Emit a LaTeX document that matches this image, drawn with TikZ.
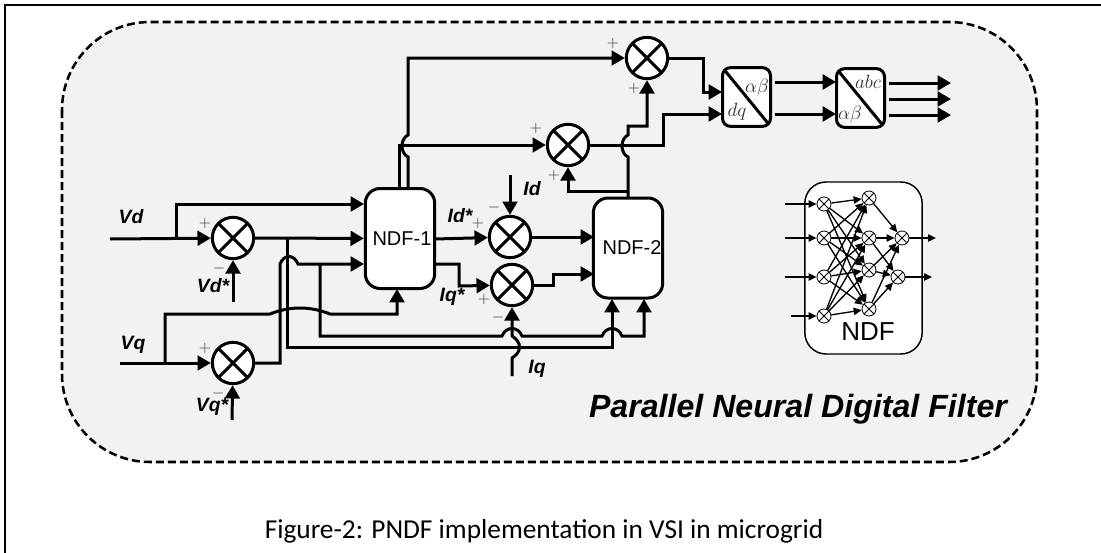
\documentclass[tikz,border=0pt]{standalone}
\usepackage{fontspec}
\setmainfont{Liberation Sans}
\newfontfamily\capfont{Carlito}
\usetikzlibrary{arrows.meta}

\definecolor{panelgray}{HTML}{F2F2F2}
\definecolor{signgray}{HTML}{303030}

\tikzset{
  crossed/.style={path picture={
    \draw[line width=#1] (path picture bounding box.north west) -- (path picture bounding box.south east);
    \draw[line width=#1] (path picture bounding box.north east) -- (path picture bounding box.south west);}},
  sumnode/.style={circle,draw,fill=white,line width=2.25pt,minimum size=31pt,inner sep=0pt,crossed=2.25pt},
  cellnode/.style={circle,draw,fill=white,line width=0.6pt,minimum size=10.5pt,inner sep=0pt,crossed=0.6pt},
  ndfbox/.style={rectangle,draw,fill=white,line width=2.25pt,rounded corners=11pt,minimum width=52pt,minimum height=75pt,inner sep=0pt},
  ndftext/.style={font=\fontsize{15pt}{17pt}\selectfont,inner sep=0pt},
  convbox/.style={rectangle,draw,fill=white,line width=2.25pt,rounded corners=6pt,minimum width=36pt,minimum height=44pt,inner sep=0pt,
    path picture={\draw[line width=2.25pt] (path picture bounding box.north west) -- (path picture bounding box.south east);}},
  namelabel/.style={font=\fontsize{14.5pt}{16pt}\bfseries\itshape\selectfont,inner sep=0pt},
  signlabel/.style={text=signgray,font=\fontsize{13pt}{15pt}\selectfont,inner sep=0pt},
  convlabel/.style={text=signgray,font=\fontsize{15.5pt}{17pt}\selectfont,inner sep=0pt},
  wire/.style={line width=2.25pt,line join=miter},
  arr/.style={wire,-{Triangle[length=10pt,width=11pt]}},
  cellarr/.style={line width=1pt,-{Triangle[length=6pt,width=5.5pt]}}
}

\begin{document}
\begin{tikzpicture}[x=0.75pt,y=-0.75pt]

\useasboundingbox (0,0) rectangle (1101,553);

% frame and panel
\coordinate (frametl) at (5,5);
\coordinate (frametr) at (1101,5);
\coordinate (framebl) at (5,553);
\draw[line width=1.9pt] (frametr) -- (frametl) -- (framebl);
\draw[fill=panelgray,line width=1.9pt,dash pattern=on 6pt off 3pt,rounded corners=66pt] (62,22) rectangle (1037,462);

% blocks
\node[ndfbox] (ndfa) at (400,238.5) {};
\node[ndfbox] (ndfb) at (628,248) {};
\node[ndftext] (ndfaname) at (402,239) {NDF-1};
\node[ndftext] (ndfbname) at (632,248) {NDF-2};
\node[sumnode] (vdsum) at (233,238) {};
\node[sumnode] (vqsum) at (233,363) {};
\node[sumnode] (idsum) at (510,237) {};
\node[sumnode] (iqsum) at (512,285) {};
\node[sumnode] (midsum) at (568,145) {};
\node[sumnode] (topsum) at (647,58) {};
\node[convbox] (dqbox) at (746.5,97) {};
\node[convbox] (abcbox) at (860.5,98) {};

% names
\node[namelabel] (vdname) at (131,217) {Vd};
\node[namelabel] (vqname) at (133,345) {Vq};
\node[namelabel] (vdsname) at (213,286) {Vd*};
\node[namelabel] (vqsname) at (212,407) {Vq*};
\node[namelabel] (idname) at (532,189) {Id};
\node[namelabel] (idsname) at (460,216) {Id*};
\node[namelabel] (iqname) at (537,369) {Iq};
\node[namelabel] (iqsname) at (452,297) {Iq*};

% signs
\node[signlabel] (vdplus) at (205,223) {$+$};
\node[signlabel] (vdminus) at (219,268) {$-$};
\node[signlabel] (vqplus) at (205,348) {$+$};
\node[signlabel] (vqminus) at (218,393) {$-$};
\node[signlabel] (idplus) at (478,223) {$+$};
\node[signlabel] (idminus) at (494,207) {$-$};
\node[signlabel] (iqplus) at (484,299) {$+$};
\node[signlabel] (iqminus) at (498,317) {$-$};
\node[signlabel] (midplusa) at (536,128) {$+$};
\node[signlabel] (midplusb) at (554,175) {$+$};
\node[signlabel] (topplusa) at (613,43) {$+$};
\node[signlabel] (topplusb) at (634,88) {$+$};

\node[convlabel] (dqab) at (757,88) {$\alpha\beta$};
\node[convlabel] (dqdq) at (737,112) {$dq$};
\node[convlabel] (abcabc) at (868,82) {$abc$};
\node[convlabel] (abcab) at (850,115) {$\alpha\beta$};

% free ends and taps
\coordinate (vdin) at (110,239);
\coordinate (vqin) at (120,363);
\coordinate (vdsin) at (233,302);
\coordinate (vqsin) at (232,420);
\coordinate (idin) at (510,175);
\coordinate (iqin) at (512,376);
\coordinate (vdtap) at (176,239);
\coordinate (vqtap) at (165,363);
\coordinate (errtap) at (287,239);
\coordinate (lowtap) at (320,264);
\coordinate (ndfatop) at (364,204);
\coordinate (ndfalow) at (364,264);
\coordinate (ndfavq) at (397,289);
\coordinate (ndfaouta) at (435,239);
\coordinate (ndfaoutb) at (435,264);
\coordinate (ndfaupa) at (399,188);
\coordinate (ndfaupb) at (408,188);
\coordinate (ndfbina) at (594,237);
\coordinate (ndfbinb) at (594,274);
\coordinate (ndfbinc) at (612,299);
\coordinate (ndfbind) at (644,299);
\coordinate (ndfbup) at (628,197);
\coordinate (ndfbtap) at (628,191);
\coordinate (dqina) at (722,92);
\coordinate (dqinb) at (722,114);
\coordinate (dqouta) at (775,82);
\coordinate (dqoutb) at (775,114);
\coordinate (abcina) at (836,82);
\coordinate (abcinb) at (836,114);
\coordinate (abcouta) at (889,83);
\coordinate (abcoutb) at (889,99);
\coordinate (abcoutc) at (889,115);
\coordinate (loada) at (951,83);
\coordinate (loadb) at (951,99);
\coordinate (loadc) at (951,115);

% left inputs
\draw[arr] (vdin) -- (vdsum);
\draw[arr] (vqin) -- (vqsum);
\draw[arr] (vdsin) -- (vdsum);
\draw[arr] (vqsin) -- (vqsum);
\draw[arr] (vdtap) |- (ndfatop);
\draw[arr] (vdsum) -- (ndfa);
\draw[arr] (vqtap) -- (165,314) -- (270,314) .. controls (290,306) and (310,306) .. (330,314) -| (ndfavq);
\draw[arr] (vqsum) -| (280,264) .. controls (284,254) and (294,254) .. (298,264) -- (ndfalow);
\draw[arr] (errtap) -- (287,347) -- (612,347) -- (ndfbinc);
\draw[arr] (lowtap) |- (502,336) .. controls (506,326) and (518,326) .. (522,336) -- (602,336) .. controls (606,326) and (618,326) .. (622,336) -| (ndfbind);

% NDF-1 outputs
\draw[arr] (ndfaouta) -- (idsum);
\draw[arr] (ndfaoutb) -| (459,286) -- (iqsum);
\draw[arr] (idin) -- (idsum);
\draw[arr] (iqin) -- (512,358) .. controls (522,352) and (522,342) .. (512,336) -- (iqsum);
\draw[arr] (idsum) -- (ndfbina);
\draw[arr] (iqsum) -- (553,285) -- (553,274) -- (ndfbinb);
\draw[arr] (ndfaupa) -- (399,145) -- (midsum);
\draw[arr] (ndfaupb) -- (408,157) .. controls (400,153) and (400,139) .. (408,135) |- (topsum);

% NDF-2 outputs
\draw[arr] (ndfbup) -- (628,157) .. controls (620,153) and (620,139) .. (628,135) -- (628,126) -| (topsum);
\draw[arr] (ndfbtap) -| (midsum);
\draw[arr] (topsum) -| (703,92) -- (dqina);
\draw[arr] (midsum) -| (663,114) -- (dqinb);
\draw[arr] (dqouta) -- (abcina);
\draw[arr] (dqoutb) -- (abcinb);
\draw[arr] (abcouta) -- (loada);
\draw[arr] (abcoutb) -- (loadb);
\draw[arr] (abcoutc) -- (loadc);

% NDF cell
\node[rectangle,draw,fill=white,line width=1.1pt,rounded corners=16pt,minimum width=88pt,minimum height=129pt,inner sep=0pt] (ndfcell) at (863.5,268) {};
\node[font=\fontsize{19.5pt}{22pt}\selectfont,inner sep=0pt] (ndfname) at (868,332) {NDF};

\node[cellnode] (ina) at (824,204) {};
\node[cellnode] (inb) at (824,238) {};
\node[cellnode] (inc) at (824,277) {};
\node[cellnode] (ind) at (824,316) {};
\node[cellnode] (hida) at (869,198) {};
\node[cellnode] (hidb) at (869,238) {};
\node[cellnode] (hidc) at (869,270) {};
\node[cellnode] (hidd) at (869,309) {};
\node[cellnode] (outa) at (902,238) {};
\node[cellnode] (outb) at (898,277) {};

\coordinate (xa) at (785,204);
\coordinate (xb) at (785,238);
\coordinate (xc) at (785,277);
\coordinate (xd) at (791,316);
\coordinate (ya) at (936,238);
\coordinate (yb) at (932,277);

\draw[cellarr] (xa) -- (ina);
\draw[cellarr] (xb) -- (inb);
\draw[cellarr] (xc) -- (inc);
\draw[cellarr] (xd) -- (ind);

\draw[cellarr] (ina) -- (hida);
\draw[cellarr] (ina) -- (hidb);
\draw[cellarr] (ina) -- (hidc);
\draw[cellarr] (ina) -- (hidd);
\draw[cellarr] (inb) -- (hida);
\draw[cellarr] (inb) -- (hidb);
\draw[cellarr] (inb) -- (hidc);
\draw[cellarr] (inb) -- (hidd);
\draw[cellarr] (inc) -- (hida);
\draw[cellarr] (inc) -- (hidb);
\draw[cellarr] (inc) -- (hidc);
\draw[cellarr] (inc) -- (hidd);
\draw[cellarr] (ind) -- (hida);
\draw[cellarr] (ind) -- (hidb);
\draw[cellarr] (ind) -- (hidc);
\draw[cellarr] (ind) -- (hidd);

\draw[cellarr] (hida) -- (outa);
\draw[cellarr] (hidb) -- (outa);
\draw[cellarr] (hidb) -- (outb);
\draw[cellarr] (hidc) -- (outa);
\draw[cellarr] (hidc) -- (outb);
\draw[cellarr] (hidd) -- (outa);
\draw[cellarr] (hidd) -- (outb);

\draw[cellarr] (outa) -- (ya);
\draw[cellarr] (outb) -- (yb);

% captions
\node[font=\fontsize{24.1pt}{26pt}\bfseries\itshape\selectfont,inner sep=0pt,anchor=base] (pndfname) at (798,417) {Parallel Neural Digital Filter};
\node[font=\capfont\fontsize{20.5pt}{24pt}\selectfont,inner sep=0pt,anchor=base] (figname) at (544,538) {Figure-2: PNDF implementation in VSI in microgrid};

\end{tikzpicture}
\end{document}
